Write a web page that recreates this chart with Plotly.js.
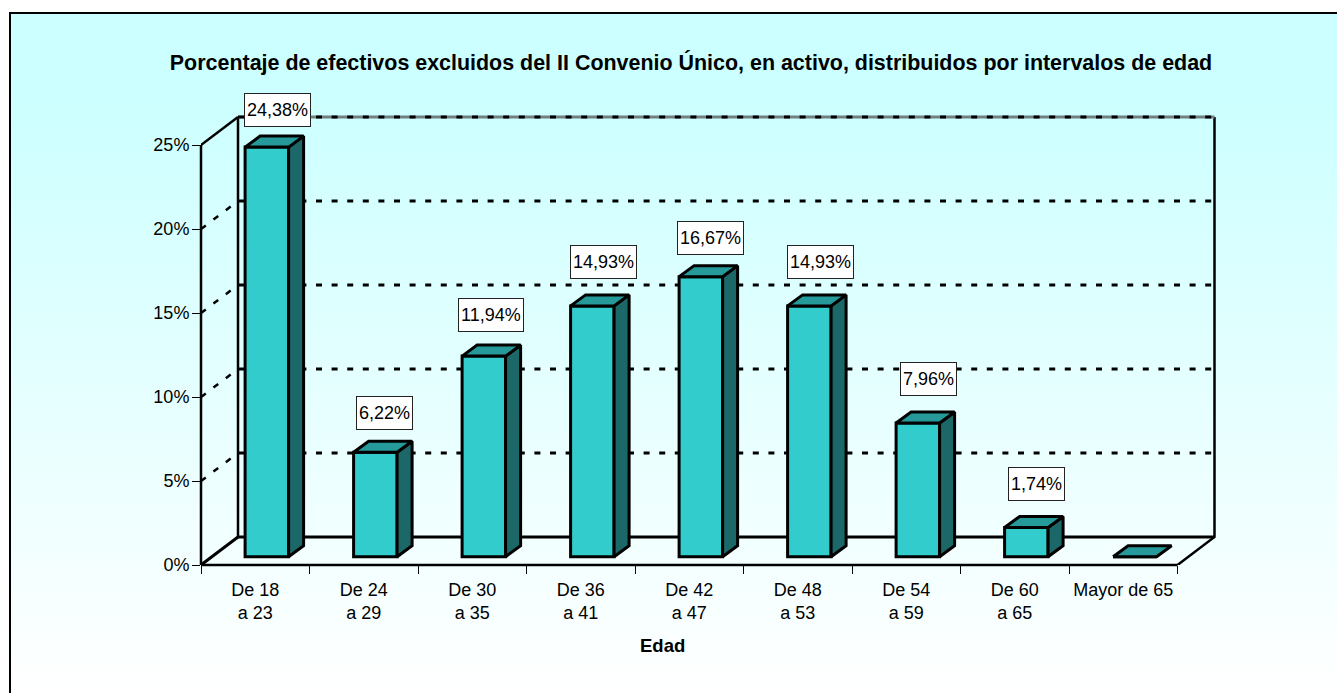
<!DOCTYPE html>
<html>
<head>
<meta charset="utf-8">
<script src="https://cdn.plot.ly/plotly-3.0.1.min.js"></script>
<style>
html,body{margin:0;padding:0;background:#fff;overflow:hidden;width:1337px;height:693px}
#frame{position:absolute;left:9px;top:12px;width:1328px;height:681px;box-sizing:border-box;border-left:2.5px solid #000;border-top:2.5px solid #000;background:linear-gradient(to bottom,#ccffff 0%,#ccffff 12%,#ffffff 100%)}
#chart{position:absolute;left:0;top:0;width:1337px;height:693px}
</style>
</head>
<body>
<div id="frame"></div>
<div id="chart"></div>
<script>
var categories = ['De 18<br>a 23','De 24<br>a 29','De 30<br>a 35','De 36<br>a 41','De 42<br>a 47','De 48<br>a 53','De 54<br>a 59','De 60<br>a 65','Mayor de 65'];
var values = [24.38, 6.22, 11.94, 14.93, 16.67, 14.93, 7.96, 1.74, 0];
var yTicks = [0, 5, 10, 15, 20, 25];
var yTickLabels = ['0%', '5%', '10%', '15%', '20%', '25%'];
var titleText = 'Porcentaje de efectivos excluidos del II Convenio Único, en activo, distribuidos por intervalos de edad';
var xTitleText = 'Edad';

var FONT = 'Liberation Sans, Arial, sans-serif';
var pxX = 108.5, pxY = 16.8;           // pixels per category / per 1 %
var plotW = 1030, plotH = 465;         // plot area leaves room above and right of the walls
var wallDx = 37 / pxX, wallDy = 28 / pxY;
var barDx = 15 / pxX, barDy = 11 / pxY;
var barW = 43.5 / pxX;
var baseX = 11.6 / pxX, baseY = 8.3 / pxY;
var labelNudgeX = [10.9, 9.4, 6.9, 10.9, 9.4, 10.9, 10.9, 9.9, 0];
var labelNudgeY = [36.8, 38.9, 41.1, 43.4, 38.6, 43.4, 44, 43.5, 0];
var n = categories.length;
var xL = -0.5, xR = n - 0.5, yMax = yTicks[yTicks.length - 1];
var xSpan = plotW / pxX, ySpan = plotH / pxY;
var idx = categories.map(function (_, i) { return i; });
var barX = idx.map(function (i) { return i + baseX; });
var DASH = '6px,9.6px';

// Top and side faces of every bar, from the values
var topX = [], topY = [], sideX = [], sideY = [];
values.forEach(function (v, i) {
  var l = barX[i] - barW / 2, r = barX[i] + barW / 2, t = v + baseY, b = baseY;
  topX.push(l, r, r + barDx, l + barDx, l, null);
  topY.push(t, t, t + barDy, t + barDy, t, null);
  if (v > 0) {
    sideX.push(r, r + barDx, r + barDx, r, r, null);
    sideY.push(b, b + barDy, t + barDy, t, b, null);
  }
});

function edge(xs, ys, color, width, dash) {
  return { type: 'scatter', mode: 'lines', x: xs, y: ys, hoverinfo: 'skip', cliponaxis: false,
           line: { color: color, width: width, dash: dash || 'solid' } };
}

var traces = [
  { type: 'bar', x: barX, y: values, base: values.map(function () { return baseY; }), width: barW,
    marker: { color: '#33cccc', line: { color: '#000', width: 3 } }, hoverinfo: 'skip', cliponaxis: false },
  { type: 'scatter', mode: 'lines', x: sideX, y: sideY, fill: 'toself', fillcolor: '#1c6868',
    line: { color: '#000', width: 3 }, hoverinfo: 'skip', cliponaxis: false },
  { type: 'scatter', mode: 'lines', x: topX, y: topY, fill: 'toself', fillcolor: '#269a9a',
    line: { color: '#000', width: 3 }, hoverinfo: 'skip', cliponaxis: false },
  // Left wall top edge; right wall edges
  edge([xL + wallDx, xL], [yMax + wallDy, yMax], '#000', 2.5),
  edge([xR, xR + wallDx, xR + wallDx], [0, wallDy, yMax + wallDy], '#000', 2.5),
  // Top of back wall
  edge([xL + wallDx, xR + wallDx], [yMax + wallDy, yMax + wallDy], '#6f8080', 3),
  edge([xL + wallDx, xR + wallDx], [yMax + wallDy, yMax + wallDy], '#000', 3, DASH)
];

function seg(x0, y0, x1, y1, color, width, dash) {
  return { type: 'line', layer: 'below', xref: 'x', yref: 'y', x0: x0, y0: y0, x1: x1, y1: y1,
           line: { color: color, width: width, dash: dash || 'solid' } };
}
// Edges that sit exactly on the plot border: paper references keep them from being clipped
function borderSeg(x0, y0, x1, y1, color, width) {
  return { type: 'line', layer: 'below', xref: 'paper', yref: 'paper',
           x0: (x0 - xL) / xSpan, y0: y0 / ySpan, x1: (x1 - xL) / xSpan, y1: y1 / ySpan,
           line: { color: color, width: width } };
}
var shapes = [];
yTicks.forEach(function (t) {
  if (t === 0 || t === yMax) return;
  shapes.push(seg(xL + wallDx, t + wallDy, xR + wallDx, t + wallDy, '#000', 3, DASH));
  shapes.push(seg(xL, t, xL + wallDx, t + wallDy, '#000', 2.5, DASH));
});
// Inner edges that pass behind the bars
shapes.push(seg(xL + wallDx, wallDy, xL + wallDx, yMax + wallDy, '#000', 2.5));
shapes.push(seg(xL, 0, xL + wallDx, wallDy, '#000', 3));
shapes.push(seg(xL + wallDx, wallDy, xR + wallDx, wallDy, '#000', 3));
// Front axes
shapes.push(borderSeg(xL, 0, xL, yMax, '#000', 2.5));
shapes.push(borderSeg(xL, 0, xR, 0, '#000', 2.5));

var annotations = [];
values.forEach(function (v, i) {
  if (v <= 0) return;
  annotations.push({
    xref: 'x', yref: 'y', x: barX[i], y: v + baseY,
    xshift: labelNudgeX[i], yshift: labelNudgeY[i], xanchor: 'center', yanchor: 'middle',
    text: v.toFixed(2).replace('.', ',') + '%', showarrow: false,
    height: 28, align: 'center', valign: 'middle', borderpad: 2,
    bgcolor: '#fff', bordercolor: '#222', borderwidth: 1,
    font: { family: FONT, size: 18, color: '#000' }
  });
});
annotations.push({
  xref: 'paper', yref: 'paper', x: (662 - 201) / plotW, y: -(645 - 565) / plotH,
  xanchor: 'center', yanchor: 'middle', text: '<b>' + xTitleText + '</b>', showarrow: false,
  font: { family: FONT, size: 18.5, color: '#000' }
});

var layout = {
  width: 1337, height: 693, autosize: false,
  margin: { l: 201, r: 1337 - 201 - plotW, t: 565 - plotH, b: 693 - 565, pad: 0 },
  paper_bgcolor: 'rgba(0,0,0,0)', plot_bgcolor: 'rgba(0,0,0,0)',
  showlegend: false,
  title: { text: titleText, x: 691 / 1337, xanchor: 'center', xref: 'container', y: 1 - 62 / 693, yanchor: 'middle', yref: 'container',
           font: { family: FONT, size: 21.45, color: '#000', weight: 'bold' } },
  xaxis: { type: 'linear', range: [xL, xL + xSpan], showgrid: false, zeroline: false, showline: false,
           tickmode: 'array', tickvals: idx, ticktext: categories, ticks: '', fixedrange: true, ticklabelstandoff: 12,
           tickfont: { family: FONT, size: 18, color: '#000' },
           minor: { tickmode: 'array', tickvals: idx.map(function (i) { return i - 0.5; }).concat([xR]),
                    ticks: 'outside', ticklen: 8, tickwidth: 1, tickcolor: '#000', showgrid: false } },
  yaxis: { type: 'linear', range: [0, ySpan], showgrid: false, zeroline: false, showline: false,
           tickmode: 'array', tickvals: yTicks, ticktext: yTickLabels, ticks: 'outside', ticklen: 8, tickwidth: 1, tickcolor: '#000',
           ticklabelstandoff: -1, fixedrange: true, tickfont: { family: FONT, size: 18, color: '#000' } },
  shapes: shapes,
  annotations: annotations
};
Plotly.newPlot('chart', traces, layout, { displayModeBar: false, staticPlot: true });
</script>
</body>
</html>
